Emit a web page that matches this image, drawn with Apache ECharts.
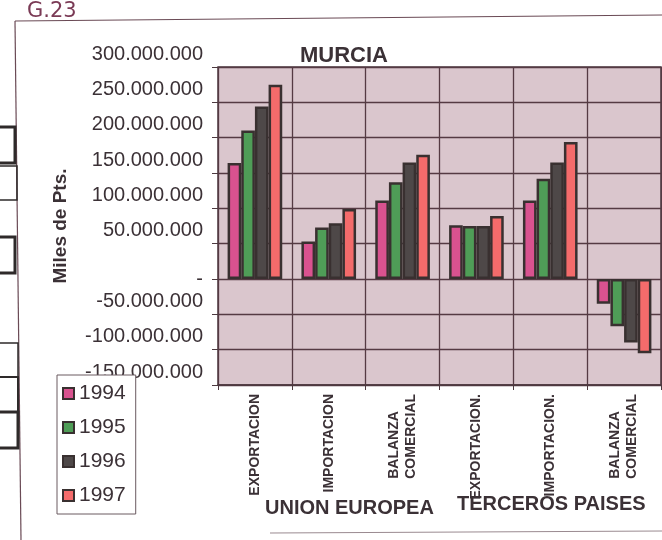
<!DOCTYPE html>
<html>
<head>
<meta charset="utf-8">
<script src="https://cdn.jsdelivr.net/npm/echarts@6/dist/echarts.min.js"></script>
<style>
  html, body { margin: 0; padding: 0; background: #fff; }
  #main { width: 662px; height: 540px; }
</style>
</head>
<body>
<div id="main"></div>
<script>
var categories = ['EXPORTACION', 'IMPORTACION', 'BALANZA\nCOMERCIAL', 'EXPORTACION.', 'IMPORTACION.', 'BALANZA\nCOMERCIAL'];
var years = ['1994', '1995', '1996', '1997'];
var v1994 = [164000000, 53000000, 111000000, 76000000, 111000000, -35000000];
var v1995 = [210000000, 73000000, 137000000, 75000000, 142000000, -67000000];
var v1996 = [244000000, 79000000, 165000000, 75000000, 165000000, -90000000];
var v1997 = [275000000, 99000000, 176000000, 89000000, 194000000, -105000000];
var yMin = -150000000, yMax = 300000000, yStep = 50000000;
var groupNames = ['UNION EUROPEA', 'TERCEROS PAISES'];

var ink = '#3b3136';
var font = 'Liberation Sans, Arial, sans-serif';
var colors = ['#d9528f', '#4f9d57', '#4e4848', '#f46b6b'];
var values = [v1994, v1995, v1996, v1997];

function fmt(v) {
  if (v === 0) return '{z|-}';
  var s = Math.abs(v).toString().replace(/\B(?=(\d{3})+(?!\d))/g, '.');
  return (v < 0 ? '-' : '') + s;
}

var chart = echarts.init(document.getElementById('main'));

var series = years.map(function (y, i) {
  return {
    name: y,
    type: 'bar',
    data: values[i],
    barGap: 0,
    barCategoryGap: '26%',
    itemStyle: { color: colors[i], borderColor: '#393030', borderWidth: 2.5 }
  };
});

var option = {
  backgroundColor: '#ffffff',
  textStyle: { fontFamily: font },
  title: {
    text: 'MURCIA',
    left: 295,
    top: 40,
    textStyle: { fontFamily: font, fontSize: 22, fontWeight: 'bold', color: ink }
  },
  legend: {
    data: years,
    orient: 'vertical',
    left: 57,
    top: 375,
    padding: [8, 10, 8, 5],
    itemWidth: 11,
    itemHeight: 11,
    itemGap: 13,
    icon: 'rect',
    backgroundColor: '#ffffff',
    borderColor: '#6a5a60',
    borderWidth: 1,
    textStyle: { fontFamily: font, fontSize: 21, color: ink }
  },
  grid: {
    left: 218,
    right: 1,
    top: 67,
    bottom: 155,
    show: true,
    backgroundColor: '#dac6cd',
    borderColor: '#4d3a40',
    borderWidth: 1.5
  },
  xAxis: {
    type: 'category',
    data: categories,
    axisLine: { onZero: false, lineStyle: { color: '#4d3a40', width: 1.5 } },
    axisTick: { show: true, length: 5, lineStyle: { color: '#4d3a40' } },
    splitLine: { show: true, lineStyle: { color: '#553a43', width: 1.3 } },
    axisLabel: {
      interval: 0,
      rotate: 90,
      margin: 9,
      fontFamily: font,
      fontSize: 14,
      fontWeight: 'bold',
      color: ink,
      lineHeight: 17,
      formatter: function (v) {
        return v.split('\n').map(function (p) { return '{a|' + p + '}'; }).join('\n');
      },
      rich: {
        a: { align: 'left', fontFamily: font, fontSize: 14, fontWeight: 'bold', color: ink, lineHeight: 17 }
      }
    }
  },
  yAxis: {
    type: 'value',
    min: yMin,
    max: yMax,
    interval: yStep,
    name: 'Miles de Pts.',
    nameLocation: 'middle',
    nameRotate: 90,
    nameGap: 148,
    nameTextStyle: { fontFamily: font, fontSize: 19, fontWeight: 'bold', color: ink },
    axisLine: { show: false },
    axisTick: { show: true, length: 6, lineStyle: { color: '#4d3a40' } },
    splitLine: { show: true, lineStyle: { color: '#553a43', width: 1.3 } },
    axisLabel: {
      margin: 15,
      fontFamily: font,
      fontSize: 20,
      color: ink,
      padding: [0, 0, 26, 0],
      formatter: fmt,
      rich: {
        z: { fontFamily: font, fontSize: 20, color: ink, padding: [26, 0, 0, 0] }
      }
    }
  },
  graphic: [
    { type: 'text', left: 265, top: 498, style: { text: groupNames[0], font: 'bold 20px ' + font, fill: ink } },
    { type: 'text', left: 457, top: 494, style: { text: groupNames[1], font: 'bold 20px ' + font, fill: ink } },
    { type: 'text', left: 27, top: 1, style: { text: 'G.23', font: '21px DejaVu Sans, sans-serif', fill: '#7a3a55' } },
    { type: 'line', shape: { x1: 15, y1: 21, x2: 662, y2: 15 }, style: { stroke: '#6a4a55', lineWidth: 1.2 } },
    { type: 'line', shape: { x1: 15, y1: 21, x2: 21, y2: 540 }, style: { stroke: '#6a4a55', lineWidth: 1.2 } },
    { type: 'line', shape: { x1: 270, y1: 533, x2: 662, y2: 531 }, style: { stroke: '#9a8a90', lineWidth: 1 } },
    { type: 'rect', shape: { x: -5, y: 127, width: 20, height: 36 }, style: { fill: 'none', stroke: '#2e2a2a', lineWidth: 3 } },
    { type: 'rect', shape: { x: -5, y: 166, width: 22, height: 34 }, style: { fill: 'none', stroke: '#2e2a2a', lineWidth: 1.5 } },
    { type: 'rect', shape: { x: -5, y: 237, width: 20, height: 36 }, style: { fill: 'none', stroke: '#2e2a2a', lineWidth: 3 } },
    { type: 'rect', shape: { x: -5, y: 343, width: 23, height: 34 }, style: { fill: 'none', stroke: '#2e2a2a', lineWidth: 1.5 } },
    { type: 'rect', shape: { x: -5, y: 377, width: 23, height: 35 }, style: { fill: 'none', stroke: '#2e2a2a', lineWidth: 2 } },
    { type: 'rect', shape: { x: -5, y: 412, width: 23, height: 36 }, style: { fill: 'none', stroke: '#2e2a2a', lineWidth: 3 } }
  ],
  series: series
};

chart.setOption(option);
</script>
</body>
</html>
